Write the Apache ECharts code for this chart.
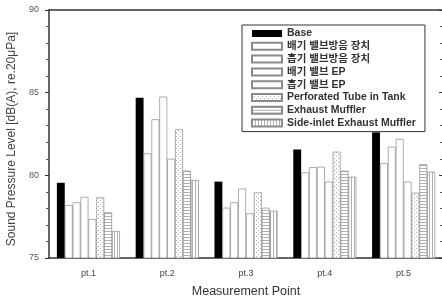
<!DOCTYPE html>
<html>
<head>
<meta charset="utf-8">
<script src="https://cdn.jsdelivr.net/npm/echarts@6/dist/echarts.min.js"></script>
<style>
  html, body { margin: 0; padding: 0; background: #fff; }
  #chart { width: 442px; height: 300px; }
</style>
</head>
<body>
<div id="chart"></div>
<script>
const categories = ['pt.1', 'pt.2', 'pt.3', 'pt.4', 'pt.5'];
const seriesNames = [
  'Base',
  '배기 밸브방음 장치',
  '흡기 밸브방음 장치',
  '배기 밸브 EP',
  '흡기 밸브 EP',
  'Perforated Tube in Tank',
  'Exhaust Muffler',
  'Side-inlet Exhaust Muffler'
];
const base = [79.55, 84.7, 79.62, 81.57, 82.6];
const exhValveDevice = [78.2, 81.33, 78.04, 80.18, 80.73];
const intValveDevice = [78.37, 83.39, 78.37, 80.49, 81.73];
const exhValveEP = [78.7, 84.76, 79.2, 80.52, 82.2];
const intValveEP = [77.36, 81.0, 77.7, 79.62, 79.62];
const perforated = [78.67, 82.78, 78.97, 81.43, 78.95];
const exhaustMuffler = [77.76, 80.28, 78.04, 80.28, 80.67];
const sideInlet = [76.63, 79.72, 77.86, 79.92, 80.22];
const values = [base, exhValveDevice, intValveDevice, exhValveEP, intValveEP, perforated, exhaustMuffler, sideInlet];

// small canvas fills for the hatched bars
function pattern(w, h, draw) {
  const c = document.createElement('canvas');
  c.width = w; c.height = h;
  const g = c.getContext('2d');
  g.fillStyle = '#fff';
  g.fillRect(0, 0, w, h);
  g.fillStyle = '#b0b0b0';
  draw(g);
  return { image: c, repeat: 'repeat' };
}
const dots = pattern(4, 4, g => { g.fillRect(0, 0, 1, 1); g.fillRect(2, 2, 1, 1); });
const hLines = pattern(4, 3, g => g.fillRect(0, 0, 4, 1));
const vLines = pattern(3, 4, g => g.fillRect(0, 0, 1, 4));
const fills = ['#000', '#fff', '#fff', '#fff', '#fff', dots, hLines, vLines];

const font = '"Liberation Sans", Arial, sans-serif';

const chart = echarts.init(document.getElementById('chart'));
chart.setOption({
  animation: false,
  textStyle: { fontFamily: font },
  grid: { left: 49, right: -1, top: 10, bottom: 42, outerBoundsMode: 'none', containLabel: false },
  legend: {
    orient: 'vertical',
    left: 242,
    top: 25,
    padding: [3, 9, 3, 9],
    itemWidth: 30,
    itemHeight: 7,
    itemGap: 1.8,
    icon: 'rect',
    backgroundColor: '#fff',
    borderColor: '#333',
    borderWidth: 1,
    textStyle: {
      fontFamily: '"Liberation Sans", "Noto Sans CJK KR", sans-serif',
      fontSize: 10.5,
      fontWeight: 'bold',
      color: '#333',
      lineHeight: 11
    },
    data: seriesNames
  },
  xAxis: [{
    type: 'category',
    data: categories,
    name: 'Measurement Point',
    nameLocation: 'middle',
    nameGap: 27,
    nameTextStyle: { fontSize: 12.5, color: '#333' },
    axisLine: { lineStyle: { color: '#333', width: 1.5 } },
    axisTick: { alignWithLabel: true, length: 4, lineStyle: { color: '#333' } },
    axisLabel: { fontSize: 9, color: '#444', margin: 11 },
    splitLine: { show: false }
  }, {
    type: 'category',
    data: categories,
    position: 'top',
    axisLine: { lineStyle: { color: '#333', width: 1.5 } },
    axisTick: { inside: true, alignWithLabel: true, length: 4, lineStyle: { color: '#333' } },
    axisLabel: { show: false }
  }],
  yAxis: [{
    type: 'value',
    min: 75,
    max: 90,
    interval: 5,
    name: 'Sound Pressure Level [dB(A), re.20\u03bcPa]',
    nameLocation: 'middle',
    nameRotate: 90,
    nameGap: 28,
    nameTextStyle: { fontSize: 12, color: '#444', padding: [0, 0, 0, -10] },
    axisLine: { show: true, lineStyle: { color: '#333', width: 1.5 } },
    axisTick: { show: true, length: 4, lineStyle: { color: '#333' } },
    minorTick: { show: true, splitNumber: 5, length: 3, lineStyle: { color: '#555' } },
    axisLabel: { fontSize: 9, color: '#555', margin: 10 },
    splitLine: { show: false }
  }, {
    type: 'value',
    min: 75,
    max: 90,
    interval: 5,
    position: 'right',
    axisLine: { show: true, lineStyle: { color: '#333', width: 1.5 } },
    axisTick: { show: true, inside: true, length: 4, lineStyle: { color: '#333' } },
    minorTick: { show: true, splitNumber: 5, length: 3, lineStyle: { color: '#555' } },
    axisLabel: { show: false },
    splitLine: { show: false }
  }],
  series: seriesNames.map((name, i) => ({
    name: name,
    type: 'bar',
    data: values[i],
    barGap: '0%',
    barCategoryGap: '20%',
    itemStyle: {
      color: fills[i],
      borderColor: i === 0 ? '#000' : '#8a8a8a',
      borderWidth: i === 0 ? 0 : 0.7
    }
  }))
});
</script>
</body>
</html>
